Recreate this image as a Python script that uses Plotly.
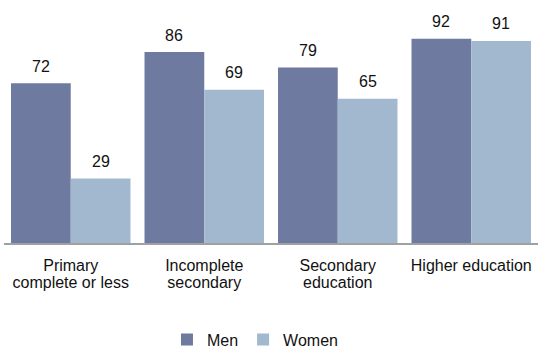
import plotly.graph_objects as go

category_lines = [["Primary", "complete or less"], ["Incomplete", "secondary"],
                  ["Secondary", "education"], ["Higher education"]]
categories = [" ".join(lines) for lines in category_lines]
men = [72, 86, 79, 92]
women = [29, 69, 65, 91]

MEN_COLOR = "#6f7aa0"
WOMEN_COLOR = "#a2b8ce"
FONT = "Liberation Sans, Arial, sans-serif"
TEXT_COLOR = "#111111"
LABEL_SIZE = 16
TICK_SIZE = 16

fig = go.Figure()
fig.add_trace(go.Bar(name="Men", x=categories, y=men,
                     marker=dict(color=MEN_COLOR, line=dict(width=0))))
fig.add_trace(go.Bar(name="Women", x=categories, y=women,
                     marker=dict(color=WOMEN_COLOR, line=dict(width=0))))

W, H = 542, 350
ml, mr, mt, mb = 4, 4, 21, 107
bargap = 0.105
cat_px = (W - ml - mr) / len(categories)
half_bar = (1 - bargap) * cat_px / 4

# value labels sit above each bar
for series, shift in ((men, -half_bar), (women, half_bar)):
    for cat, v in zip(categories, series):
        fig.add_annotation(x=cat, y=v, xref="x", yref="y", text=str(v),
                           showarrow=False, xshift=shift, yshift=17,
                           yanchor="middle",
                           font=dict(family=FONT, size=LABEL_SIZE, color=TEXT_COLOR))

# category labels: large glyphs on a fairly tight line pitch
tick_text = ["<br>".join(f"<span style='font-size:{TICK_SIZE}px'>{ln}</span>"
                         for ln in lines) for lines in category_lines]

fig.update_layout(
    width=W, height=H,
    margin=dict(l=ml, r=mr, t=mt, b=mb, autoexpand=False),
    barmode="group", bargap=bargap, bargroupgap=0,
    plot_bgcolor="white", paper_bgcolor="white",
    font=dict(family=FONT, size=LABEL_SIZE, color=TEXT_COLOR),
    showlegend=True,
    legend=dict(orientation="h", x=0.47, xanchor="center",
                yref="container", y=0.03, yanchor="middle",
                font=dict(size=LABEL_SIZE), itemwidth=30, traceorder="normal"),
)
fig.update_xaxes(showline=True, linecolor="#a0a0a0", linewidth=2,
                 ticks="", showgrid=False, ticklabelstandoff=10,
                 tickmode="array", tickvals=categories, ticktext=tick_text,
                 tickfont=dict(size=13, family=FONT, color=TEXT_COLOR))
fig.update_yaxes(range=[0, 100], visible=False, showgrid=False)

fig.write_html("out.html")
